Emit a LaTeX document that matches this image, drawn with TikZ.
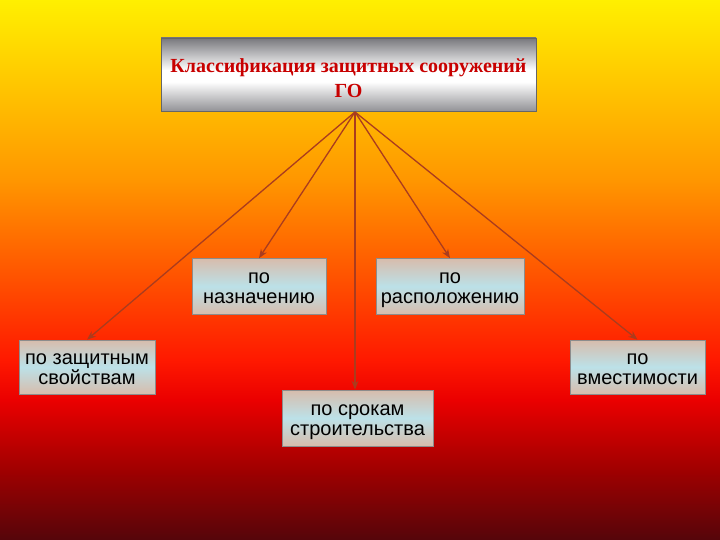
\documentclass[tikz,border=0pt]{standalone}
\usepackage{fontspec}
\setmainfont{Liberation Serif}
\setsansfont{Liberation Sans}
\usetikzlibrary{arrows.meta}

\definecolor{bgtop}{RGB}{255,240,0}
\definecolor{bgorange}{RGB}{255,150,0}
\definecolor{bgred}{RGB}{255,25,0}
\definecolor{bgmid}{RGB}{235,0,0}
\definecolor{bgdark}{RGB}{160,0,0}
\definecolor{bgbottom}{RGB}{85,5,10}
\definecolor{titlered}{RGB}{200,0,0}
\definecolor{linkcol}{RGB}{170,60,30}
\definecolor{boxtan}{RGB}{215,188,172}
\definecolor{boxblue}{RGB}{188,225,232}
\definecolor{titlegray}{RGB}{120,120,125}

% background, bottom (25bp) to top (75bp)
\pgfdeclareverticalshading{bgshade}{100bp}{%
  color(0bp)=(bgbottom); color(25bp)=(bgbottom); color(31.5bp)=(bgdark);
  color(38bp)=(bgmid); color(41.7bp)=(bgred); color(58.3bp)=(bgorange);
  color(75bp)=(bgtop); color(100bp)=(bgtop)}
\pgfdeclareverticalshading{boxshade}{100bp}{%
  color(0bp)=(boxtan); color(25bp)=(boxtan); color(50bp)=(boxblue);
  color(75bp)=(boxtan); color(100bp)=(boxtan)}
\pgfdeclareverticalshading{titleshade}{100bp}{%
  color(0bp)=(titlegray!80); color(25bp)=(titlegray!80); color(45bp)=(white);
  color(53bp)=(white); color(75bp)=(titlegray); color(100bp)=(titlegray)}

\tikzset{
  titlebox/.style={draw=black!60, line width=0.6pt, shading=titleshade,
    minimum width=375pt, minimum height=73pt, inner sep=0pt,
    text height=50pt, text depth=3pt, align=center, text=titlered,
    font=\fontsize{20}{25}\selectfont\bfseries},
  kindbox/.style={draw=black!45, line width=0.6pt, shading=boxshade,
    minimum height=56pt, inner sep=0pt, align=center,
    text height=38pt, text depth=4pt,
    font=\sffamily\fontsize{20}{20}\selectfont},
  link/.style={draw=linkcol, line width=1.3pt,
    -{Stealth[length=9pt,width=7pt]}}
}

\begin{document}
\begin{tikzpicture}[x=1pt,y=-1pt]
    \useasboundingbox (0,0) rectangle (720,540);
    \shade[shading=bgshade] (0,0) rectangle (720,540);

    \node[titlebox] (title) at (348.5,74.5)
        {Классификация защитных сооружений\\ГО};
    \coordinate (src) at (355,112);

    \node[kindbox, minimum width=134pt] (purpose) at (259,286.5) {по\\назначению};
    \node[kindbox, minimum width=148pt] (place) at (450,286.5) {по\\расположению};
    \node[kindbox, minimum width=136pt, minimum height=54pt] (protect) at (87,367)
        {по защитным\\свойствам};
    \node[kindbox, minimum width=135pt, minimum height=54pt] (capacity) at (637.5,367)
        {по\\вместимости};
    \node[kindbox, minimum width=151pt] (terms) at (357.5,418)
        {по срокам\\строительства};

    \draw[link] (src) -- (protect.north);
    \draw[link] (src) -- (purpose.north);
    \draw[link] (src) -- (terms.north -| src);
    \draw[link] (src) -- (place.north);
    \draw[link] (src) -- (capacity.north);
\end{tikzpicture}
\end{document}
